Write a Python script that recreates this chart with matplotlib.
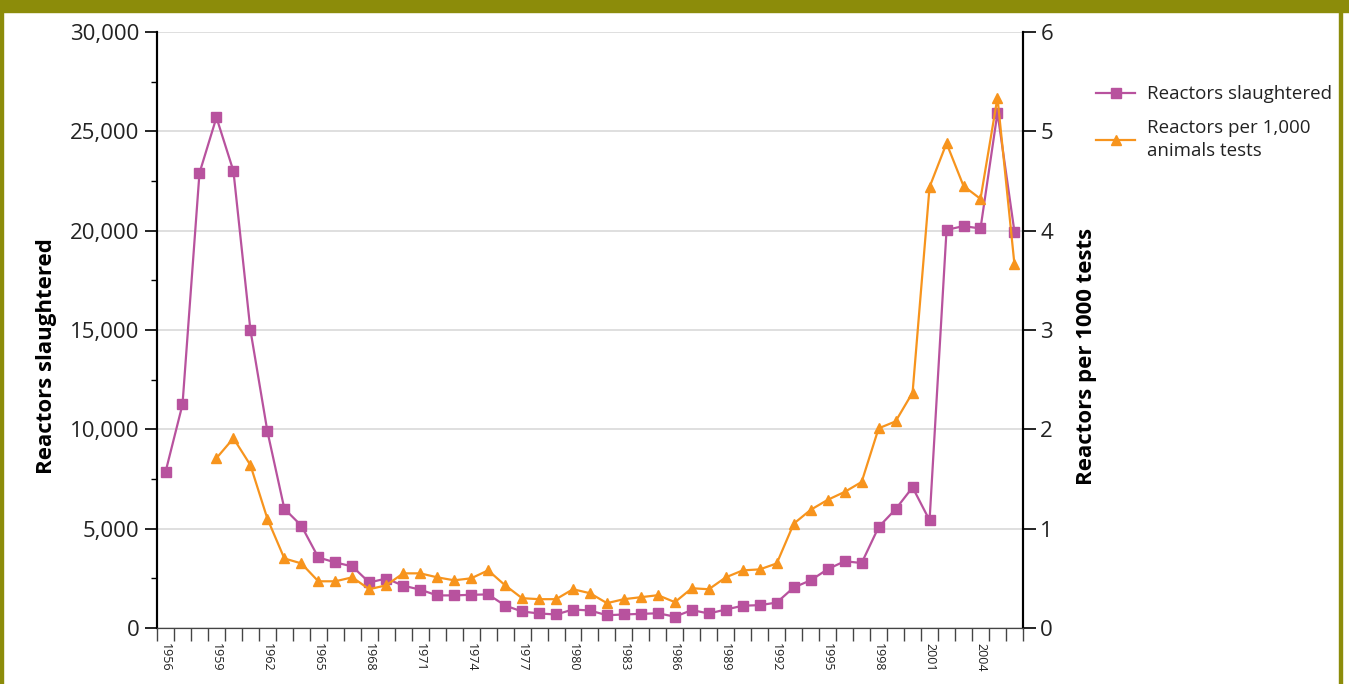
import matplotlib.pyplot as plt
import numpy as np
from matplotlib.patches import Rectangle

plt.rcParams['font.family'] = ['Open Sans', 'DejaVu Sans']

# Data
years = list(range(1956, 2007))

slaughtered = [7850, 11250, 22900, 25700, 23000, 15000, 9900, 6000, 5150, 3550,
               3300, 3100, 2290, 2490, 2130, 1930, 1640, 1640, 1670, 1690,
               1130, 830, 730, 680, 930, 880, 640, 680, 710, 740,
               570, 900, 730, 930, 1120, 1150, 1280, 2040, 2400, 2960,
               3360, 3270, 5080, 5980, 7080, 5420, 20040, 20230, 20110, 25940,
               19940]

per_1000 = [None, None, None, 1.71, 1.91, 1.64, 1.10, 0.70, 0.65, 0.47,
            0.47, 0.51, 0.39, 0.43, 0.55, 0.55, 0.51, 0.48, 0.50, 0.58,
            0.43, 0.30, 0.29, 0.29, 0.39, 0.35, 0.25, 0.29, 0.31, 0.33,
            0.26, 0.40, 0.39, 0.51, 0.58, 0.59, 0.65, 1.05, 1.19, 1.29,
            1.37, 1.47, 2.01, 2.08, 2.37, 4.44, 4.88, 4.45, 4.32, 5.34,
            3.66]

magenta = '#b8529e'
orange = '#f7941d'
olive = '#8c8c0a'
txt = '#222222'

x = np.arange(len(years))
rate = np.array([np.nan if v is None else v for v in per_1000])

fig = plt.figure(figsize=(13.49, 6.84), dpi=100)
ax = fig.add_axes([0.1164, 0.0819, 0.6419, 0.8713])
ax2 = ax.twinx()

l1, = ax.plot(x, slaughtered, color=magenta, lw=1.6, marker='s', ms=7,
              label='Reactors slaughtered', zorder=3)
l2, = ax2.plot(x, rate, color=orange, lw=1.6, marker='^', ms=7,
               label='Reactors per 1,000\nanimals tests', zorder=3)

ax.set_xlim(-0.5, len(years) - 0.5)
ax.set_ylim(0, 30000)
ax2.set_ylim(0, 6)

ax.set_yticks(np.arange(0, 30001, 5000))
ax.set_yticklabels(['{:,}'.format(v) for v in range(0, 30001, 5000)], fontsize=16, color=txt)
ax.set_yticks(np.arange(2500, 30000, 5000), minor=True)
ax2.set_yticks(range(0, 7))
ax2.set_yticklabels([str(v) for v in range(0, 7)], fontsize=16, color=txt)

ax.grid(axis='y', color='#d9d9d9', lw=1.2)
ax.set_axisbelow(True)

# x ticks: marks at category boundaries, labels every 3 years
ax.set_xticks(np.arange(-0.5, len(years)), minor=True)
lab_idx = [i for i in range(len(years)) if i % 3 == 0]
ax.set_xticks(lab_idx)
ax.set_xticklabels([str(years[i]) for i in lab_idx], rotation=270, fontsize=9, color=txt)
ax.tick_params(axis='x', which='major', length=0, pad=11)
ax.tick_params(axis='x', which='minor', length=9, width=1, color='#444444')
ax.tick_params(axis='y', which='major', length=9, width=1.2)
ax.tick_params(axis='y', which='minor', length=4, width=1)
ax2.tick_params(axis='y', length=9, width=1.2)

for a in (ax, ax2):
    a.spines['top'].set_visible(False)
    a.spines['left'].set_linewidth(1.5)
    a.spines['right'].set_linewidth(1.5)
    a.spines['bottom'].set_color('#444444')

ax.set_ylabel('Reactors slaughtered', fontsize=16, fontweight='bold')
ax2.set_ylabel('Reactors per 1000 tests', fontsize=16, fontweight='bold')
ax.yaxis.set_label_coords(-0.116, 0.456)
ax2.yaxis.set_label_coords(1.061, 0.456)

leg = fig.legend(handles=[l1, l2], loc='upper left', bbox_to_anchor=(0.8, 0.9),
                 frameon=False, fontsize=13.5, handlelength=2.1, labelspacing=0.85,
                 handletextpad=0.6, labelcolor=txt)
for t in leg.get_texts():
    t.set_linespacing(1.35)

# olive frame
fig.patches.append(Rectangle((0, 1 - 12 / 684), 1, 12 / 684, transform=fig.transFigure,
                             color=olive, zorder=0))
fig.patches.append(Rectangle((0, 0), 3 / 1349, 1, transform=fig.transFigure,
                             color=olive, zorder=0))
fig.patches.append(Rectangle((1339 / 1349, 0), 3 / 1349, 1, transform=fig.transFigure,
                             color=olive, zorder=0))

fig.savefig('out.png', dpi=100)
